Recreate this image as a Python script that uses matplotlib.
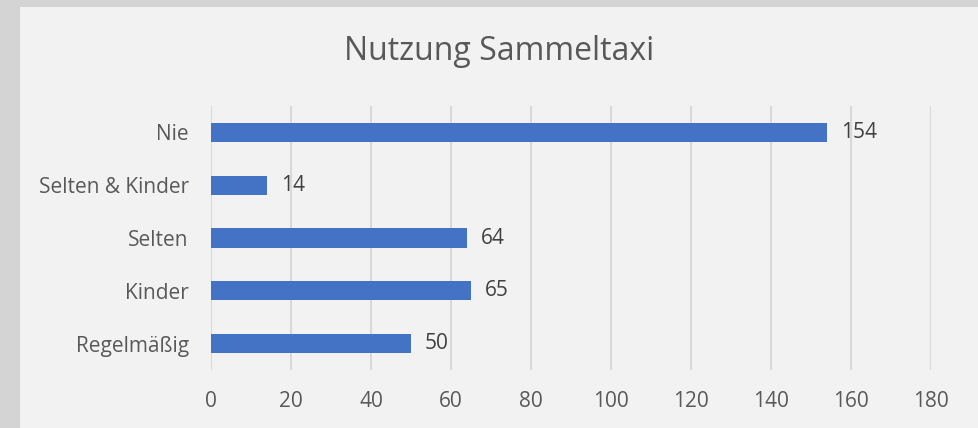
import matplotlib.pyplot as plt
from matplotlib.patches import Rectangle

# data
categories = ["Regelmäßig", "Kinder", "Selten", "Selten & Kinder", "Nie"]
counts = [50, 65, 64, 14, 154]
xticks = [0, 20, 40, 60, 80, 100, 120, 140, 160, 180]

plt.rcParams["font.family"] = ["Open Sans", "DejaVu Sans"]
text_col = "#595959"

fig = plt.figure(figsize=(9.79, 4.28), dpi=100, facecolor="#d4d4d4")
fig.patches.append(Rectangle((20 / 979, 0), 1, 1 - 7 / 428, transform=fig.transFigure,
                             facecolor="#f2f2f2", edgecolor="none", zorder=-5))

ax = fig.add_axes([211 / 979, 1 - 370 / 428, 720 / 979, 264 / 428])
ax.set_facecolor("none")

y = range(len(categories))
ax.barh(y, counts, height=0.36, color="#4472c4", zorder=3)
for yi, v in zip(y, counts):
    ax.text(v + 3.5, yi, str(v), va="center", ha="left", fontsize=15, color="#404040")

ax.set_xlim(0, 180)
ax.set_ylim(-0.5, len(categories) - 0.5)
ax.set_xticks(xticks)
ax.set_yticks(list(y))
ax.set_yticklabels(categories)
ax.tick_params(axis="both", length=0, labelsize=15, labelcolor=text_col)
ax.tick_params(axis="x", pad=15)
ax.tick_params(axis="y", pad=16)
ax.grid(axis="x", color="#d9d9d9", linewidth=1.5, zorder=0)
for s in ax.spines.values():
    s.set_visible(False)

fig.text(499 / 979, 1 - 52 / 428, "Nutzung Sammeltaxi", ha="center", va="center",
         fontsize=23, color=text_col)

fig.savefig("out.png", dpi=100, facecolor=fig.get_facecolor())
